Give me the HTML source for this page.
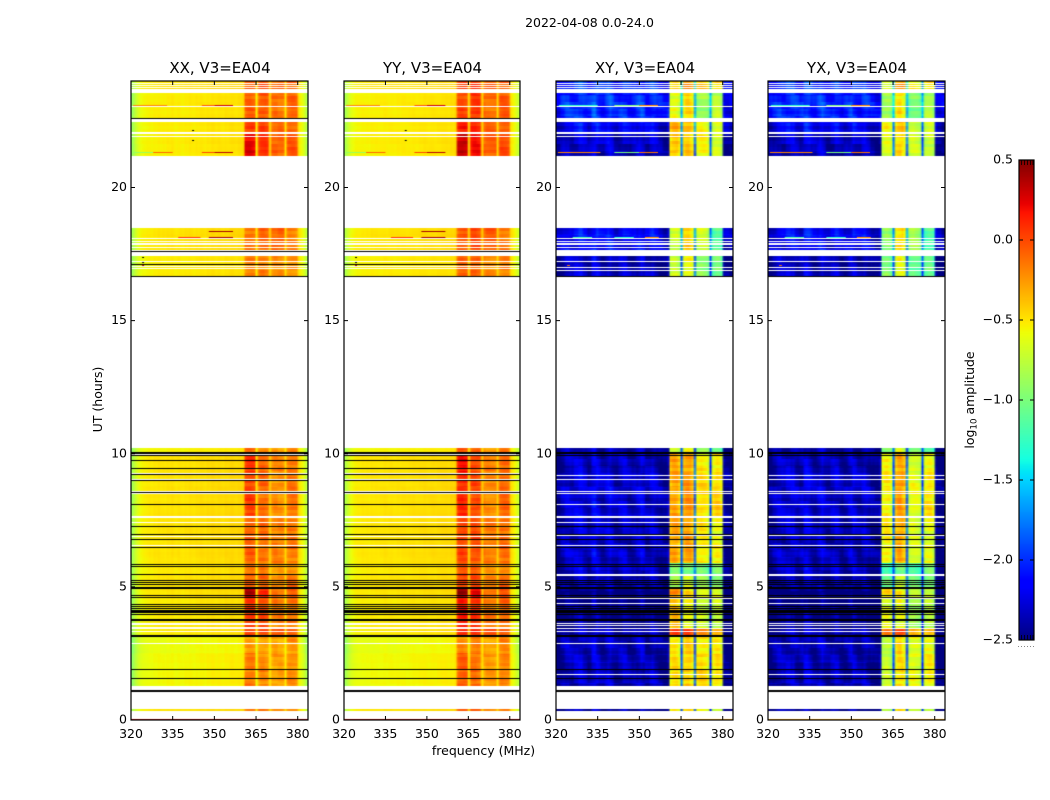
<!DOCTYPE html>
<html lang="en">
<head>
<meta charset="utf-8">
<title>2022-04-08 0.0-24.0</title>
<style>
html,body{margin:0;padding:0;background:#fff;}
#figure{position:relative;width:1050px;height:800px;overflow:hidden;background:#fff;font-family:"DejaVu Sans","Liberation Sans",sans-serif;}
canvas{position:absolute;display:block;}
svg{position:absolute;left:0;top:0;}
text{font-family:"DejaVu Sans","Liberation Sans",sans-serif;fill:#000;}
</style>
</head>
<body>
<div id="figure">
<svg id="overlay" width="1050" height="800" viewBox="0 0 1050 800"></svg>
</div>
<script>
/* ---------- axis labels ---------- */
const panelNames = ['XX, V3=EA04','YY, V3=EA04','XY, V3=EA04','YX, V3=EA04'];
const freqTicks = [320,335,350,365,380];
const timeTicks = [0,5,10,15,20];
const cbarTicks = [0.5,0,-0.5,-1,-1.5,-2,-2.5];
const cbarLabels = ['0.5','0.0','\u22120.5','\u22121.0','\u22121.5','\u22122.0','\u22122.5'];

/* ---------- frequency profile, log10 amplitude per 0.8 MHz channel from 320 MHz ---------- */
const profileXX = [
-0.86,-0.76,-0.67,-0.60,-0.56,-0.54,-0.53,-0.52,-0.51,-0.52,
-0.50,-0.51,-0.49,-0.51,-0.50,-0.51,-0.49,-0.50,-0.48,-0.50,
-0.51,-0.49,-0.50,-0.51,-0.49,-0.50,-0.48,-0.49,-0.50,-0.48,
-0.49,-0.47,-0.48,-0.49,-0.47,-0.48,-0.46,-0.47,-0.48,-0.46,
-0.47,-0.48,-0.46,-0.47,-0.46,-0.45,-0.46,-0.47,-0.45,-0.46,
-0.44,-0.14,-0.10,-0.09,-0.10,-0.14,-0.50,-0.17,-0.13,-0.12,
-0.13,-0.17,-0.44,-0.21,-0.18,-0.18,-0.19,-0.18,-0.21,-0.44,
-0.17,-0.14,-0.13,-0.14,-0.17,-0.47,-0.53,-0.60,-0.70,-0.84];
const profileYY = [
-0.82,-0.72,-0.64,-0.58,-0.55,-0.53,-0.52,-0.52,-0.51,-0.52,
-0.51,-0.52,-0.50,-0.51,-0.50,-0.51,-0.50,-0.50,-0.49,-0.50,
-0.50,-0.49,-0.50,-0.50,-0.49,-0.50,-0.49,-0.49,-0.50,-0.49,
-0.49,-0.48,-0.49,-0.49,-0.48,-0.48,-0.47,-0.48,-0.48,-0.47,
-0.47,-0.48,-0.47,-0.47,-0.46,-0.46,-0.46,-0.47,-0.45,-0.46,
-0.42,-0.05,-0.02,-0.01,-0.02,-0.05,-0.46,-0.06,-0.03,-0.02,
-0.03,-0.06,-0.42,-0.19,-0.17,-0.16,-0.17,-0.17,-0.19,-0.42,
-0.13,-0.10,-0.09,-0.10,-0.13,-0.46,-0.52,-0.58,-0.66,-0.78];
const profileXY = [
-2.42,-2.40,-2.30,-2.25,-2.20,-2.18,-2.22,-2.25,-2.20,-2.18,
-2.15,-2.14,-2.20,-2.24,-2.28,-2.25,-2.12,-2.08,-2.12,-2.20,
-2.26,-2.28,-2.22,-2.14,-2.12,-2.20,-2.28,-2.30,-2.26,-2.22,
-2.18,-2.20,-2.28,-2.32,-2.30,-2.26,-2.22,-2.16,-2.14,-2.20,
-2.26,-2.28,-2.22,-2.16,-2.20,-2.26,-2.30,-2.32,-2.36,-2.38,
-2.30,-0.36,-0.30,-0.28,-0.30,-0.42,-1.70,-0.36,-0.28,-0.26,
-0.30,-0.40,-1.75,-0.56,-0.52,-0.50,-0.52,-0.54,-0.62,-1.80,
-0.62,-0.55,-0.52,-0.55,-0.66,-2.38,-2.40,-2.42,-2.42,-2.42];
const profileYX = [
-2.40,-2.36,-2.30,-2.26,-2.22,-2.20,-2.24,-2.26,-2.22,-2.20,
-2.18,-2.16,-2.22,-2.26,-2.30,-2.26,-2.14,-2.10,-2.14,-2.22,
-2.28,-2.30,-2.24,-2.16,-2.14,-2.22,-2.30,-2.32,-2.28,-2.24,
-2.20,-2.22,-2.30,-2.34,-2.32,-2.28,-2.24,-2.18,-2.16,-2.22,
-2.28,-2.30,-2.24,-2.18,-2.22,-2.28,-2.32,-2.34,-2.38,-2.40,
-2.32,-0.62,-0.55,-0.52,-0.55,-0.66,-1.70,-0.40,-0.32,-0.30,
-0.34,-0.44,-1.75,-0.72,-0.66,-0.64,-0.66,-0.68,-0.76,-1.80,
-0.66,-0.60,-0.58,-0.60,-0.70,-2.38,-2.42,-2.42,-2.44,-2.44];

/* ---------- observing blocks (hours) ---------- */
const blockStart = [0.34,1.28,2.50,3.15,3.45,4.60,4.95,5.50,5.88,7.60,9.30,10.00,16.66,17.60,21.18,22.08,22.60,23.70];
const blockEnd   = [0.41,2.50,3.15,3.45,4.60,4.95,5.50,5.88,7.60,9.30,10.00,10.20,17.43,18.48,22.00,22.46,23.55,24.00];

/* amplitude offsets per block: out of band, sub-band 1, 2, 3, 4 */
const parallelOffsets = [
[0,-0.10,-0.05,-0.10,-0.05],
[-0.07,-0.05,-0.10,-0.10,-0.08],
[-0.10,-0.20,-0.15,-0.12,-0.12],
[-0.02,0.12,0.10,0.15,0.05],
[-0.02,0.15,0.10,0,0],
[0,0.45,0.25,0.05,0.05],
[0,0.05,0,-0.05,0],
[-0.02,-0.03,-0.05,-0.10,-0.10],
[0,0.02,0,0,-0.02],
[0,0.12,0.02,-0.05,0],
[0,0.18,0.02,-0.02,0.02],
[-0.05,0,-0.05,-0.10,-0.05],
[-0.03,-0.10,-0.05,-0.05,-0.08],
[0,-0.02,0.02,0.10,-0.05],
[-0.03,0.35,0.20,0.10,0.10],
[-0.03,0.15,0.15,0.08,0.05],
[-0.03,0.02,0.08,0.05,0.05],
[0,0.05,0.10,0.10,0.05]];
const crossOffsets = [
[-0.20,-0.30,-0.20,-0.10,-0.20],
[-0.13,-0.20,-0.15,0.05,0.05],
[-0.15,-0.20,-0.15,0,0],
[-0.15,0.35,0.35,0.30,0.25],
[-0.25,-0.10,-0.30,-0.20,-0.20],
[-0.30,0.10,-0.20,-0.10,-0.10],
[-0.15,-0.50,-0.40,-0.40,-0.40],
[-0.10,-0.70,-0.70,-0.50,-0.40],
[-0.10,0,0,0,-0.02],
[-0.07,0,0.05,0.05,0.10],
[-0.12,-0.02,0,0,0],
[-0.15,-0.35,-0.30,-0.35,-0.50],
[-0.12,-0.45,-0.30,-0.40,-0.50],
[0.05,-0.40,-0.15,-0.20,-0.55],
[-0.10,-0.10,-0.15,-0.05,-0.10],
[0.05,-0.05,-0.05,-0.05,-0.10],
[0.20,-0.30,-0.20,-0.35,-0.20],
[0.20,-0.20,0.10,0.10,0.10]];

/* sub-band edges (MHz) */
const subbandLow  = [360.8,365.6,370.4,376.0];
const subbandHigh = [364.8,369.6,375.2,380.0];

/* hand-read texture of the dynamic spectrum */
const rowTexture = [0.4,-0.2,0.7,0.1,-0.6,0.3,-0.1,0.8,-0.5,0.2,-0.7,0.5,0,-0.3,0.6,-0.8,0.2,0.4,-0.4,0.1,0.9,-0.6,-0.1,0.3,-0.9,0.5,0.2,-0.2,0.6,-0.5,0];
const blobTexture = [
[0.6,0.9,0.3,-0.4,-0.8,-0.2,0.5,1.0,0.4,-0.5,-0.9],
[0.2,0.7,0.8,0.1,-0.6,-0.7,0,0.6,0.7,-0.1,-0.6],
[-0.5,0,0.6,0.9,0.2,-0.5,-0.8,-0.1,0.5,0.8,0.1],
[-0.9,-0.6,0.1,0.7,0.8,0.2,-0.4,-0.7,0,0.7,0.6],
[-0.4,-0.8,-0.5,0,0.6,0.9,0.3,-0.4,-0.6,0.1,0.9],
[0.3,-0.3,-0.7,-0.6,0,0.5,0.8,0.2,-0.3,-0.5,0.4],
[0.8,0.4,-0.2,-0.8,-0.5,0.1,0.6,0.9,0.1,-0.7,-0.3]];

/* rows with no data (white) and zero-amplitude rows (black), in hours */
const parallelWhiteRows = [23.94,23.85,23.77,23.06,21.93,18.11,17.99,17.91,17.88,17.75,17.67,17.24,17.07,16.96,9.99,9.28,9.06,8.61,8.54,7.66,7.62,7.44,6.91,6.59,3.66,3.59,3.51,3.46,3.36,2.91];
const parallelBlackRows = [22.61,17.60,17.11,16.66,10.05,10.02,9.94,9.78,9.48,9.25,9.01,8.56,8.11,7.30,7.00,6.81,6.51,5.86,5.78,5.49,5.24,5.20,5.12,5.01,4.97,4.69,4.62,4.36,4.28,4.21,4.12,4.08,4.04,3.98,3.79,3.74,3.19,3.15,1.90,1.58,1.13,1.09];
const crossWhiteRows = [23.94,23.85,23.77,23.06,22.61,21.93,18.11,17.99,17.91,17.88,17.78,17.67,17.24,17.03,16.92,9.97,9.20,9.07,8.60,8.54,8.13,7.66,7.62,7.44,6.93,6.59,5.48,5.45,4.58,4.38,3.66,3.57,3.47,3.36,2.91,1.74];
const crossBlackRows = [16.66,10.05,10.02,9.94,7.30,7.00,6.81,6.51,5.86,5.78,5.24,5.20,5.12,5.01,4.97,4.69,4.62,4.28,4.21,4.12,4.08,4.04,3.98,3.79,3.74,3.19,3.15,1.90,1.58,1.13,1.09];

/* narrow-band / short-lived features: time, low MHz, high MHz, log10 amplitude */
const parallelFlagTime = [23.91,23.91,23.91,23.10,23.10,23.10,21.32,21.32,21.32,21.32,18.35,18.15,18.15,22.16,21.78,17.99,17.99,17.39,17.20,17.09,0.02];
const parallelFlagLow  = [365.6,371.0,376.0,320.7,345.5,350.0,320.7,328.0,345.5,350.0,348.0,337.0,348.0,342.0,342.0,335.6,342.0,324.0,324.0,324.0,320.0];
const parallelFlagHigh = [369.6,375.2,380.0,333.0,350.0,356.7,328.0,335.0,350.0,356.7,356.7,345.0,356.7,342.7,342.7,336.3,342.7,324.7,324.7,324.7,384.0];
const parallelFlagValue = [0.20,0.20,0.20,-0.20,-0.05,0.30,-0.90,-0.10,0,0.35,0.40,0.05,0.40,-2.5,-2.5,-2.5,-2.5,-2.5,-2.5,0.40,0.35];
const crossFlagTime = [23.91,23.10,23.10,23.10,21.32,21.32,21.32,18.15,18.15,18.15,17.09,0.02];
const crossFlagLow  = [361.0,321.0,341.0,350.0,320.7,341.0,350.0,326.0,341.0,352.0,324.0,320.0];
const crossFlagHigh = [380.0,335.0,350.0,356.7,336.0,350.0,356.7,333.0,348.0,357.0,325.0,384.0];
const crossFlagValue = [-0.10,-1.30,-1.00,-0.20,-0.20,-1.00,-0.15,-1.20,-1.30,-0.20,-0.20,-0.30];

/* ---------- layout ---------- */
const panelLeft = [131,344,556,768];
const panelRight = [308,520,733,945];
const plotTop = 81, plotBottom = 720;
const freqMin = 320, freqMax = 383.7, timeMax = 24, valueMin = -2.5, valueMax = 0.5;
const channelWidth = 0.8;
const NS = 'http://www.w3.org/2000/svg';
const svg = document.getElementById('overlay');
const figure = document.getElementById('figure');

function xScale(panel, f){
  return panelLeft[panel] + (f - freqMin) / (freqMax - freqMin) * (panelRight[panel] - panelLeft[panel]);
}
function yScale(t){
  return plotBottom - t / timeMax * (plotBottom - plotTop);
}
function yScaleCb(v){
  return 160 + (valueMax - v) / (valueMax - valueMin) * 480;
}
function jet(v){
  const x = Math.min(1, Math.max(0, (v - valueMin) / (valueMax - valueMin)));
  const lerp = (pts) => {
    for (let i = 1; i < pts.length; i++) {
      if (x <= pts[i][0]) {
        const a = pts[i-1], b = pts[i];
        return a[1] + (b[1]-a[1]) * (x-a[0]) / (b[0]-a[0]);
      }
    }
    return pts[pts.length-1][1];
  };
  return [
    Math.round(255*lerp([[0,0],[0.35,0],[0.66,1],[0.89,1],[1,0.5]])),
    Math.round(255*lerp([[0,0],[0.125,0],[0.375,1],[0.64,1],[0.91,0],[1,0]])),
    Math.round(255*lerp([[0,0.5],[0.11,1],[0.34,1],[0.65,0],[1,0]]))
  ];
}
function subbandOf(f){
  for (let i = 0; i < subbandLow.length; i++) {
    if (f >= subbandLow[i] - 0.01 && f < subbandHigh[i] - 0.01) return i + 1;
  }
  return 0;
}
function blockOf(t){
  for (let i = 0; i < blockStart.length; i++) {
    if (t >= blockStart[i] && t < blockEnd[i]) return i;
  }
  return -1;
}
function svgEl(tag, attrs, name){
  const el = document.createElementNS(NS, tag);
  for (const k in attrs) el.setAttribute(k, attrs[k]);
  
  
  svg.appendChild(el);
  return el;
}
function label(str, x, y, size, anchor, name, rotate){
  const attrs = {x:x, y:y, 'font-size':size, 'text-anchor':anchor};
  if (rotate) attrs.transform = 'rotate(-90 ' + x + ' ' + y + ')';
  const el = svgEl('text', attrs, name);
  el.textContent = str;
  return el;
}

/* ---------- heatmaps ---------- */
const panelProfiles = [profileXX, profileYY, profileXY, profileYX];
const panelOffsets = [parallelOffsets, parallelOffsets, crossOffsets, crossOffsets];
const panelWhite = [parallelWhiteRows, parallelWhiteRows, crossWhiteRows, crossWhiteRows];
const panelBlack = [parallelBlackRows, parallelBlackRows, crossBlackRows, crossBlackRows];
const flagSets = [
  [parallelFlagTime, parallelFlagLow, parallelFlagHigh, parallelFlagValue],
  [parallelFlagTime, parallelFlagLow, parallelFlagHigh, parallelFlagValue],
  [crossFlagTime, crossFlagLow, crossFlagHigh, crossFlagValue],
  [crossFlagTime, crossFlagLow, crossFlagHigh, crossFlagValue]
];
const panelSlugs = ['xx','yy','xy','yx'];

panelNames.forEach(function(title, p){
  const w = panelRight[p] - panelLeft[p];
  const h = plotBottom - plotTop;
  const canvas = document.createElement('canvas');
  canvas.width = w; canvas.height = h;
  canvas.style.left = panelLeft[p] + 'px';
  canvas.style.top = plotTop + 'px';
  
  
  figure.insertBefore(canvas, svg);
  const ctx = canvas.getContext('2d');

  const profile = panelProfiles[p];
  const cols = profile.length;
  const off = document.createElement('canvas');
  off.width = cols; off.height = h;
  const octx = off.getContext('2d');
  const img = octx.createImageData(cols, h);
  const cross = p >= 2;
  for (let r = 0; r < h; r++) {
    const t = (plotBottom - (plotTop + r + 0.5)) / (plotBottom - plotTop) * timeMax;
    const b = blockOf(t);
    if (b < 0) continue;
    const rowIdx = Math.floor(r / 3);
    for (let c = 0; c < cols; c++) {
      const f = freqMin + c * channelWidth;
      const s = subbandOf(f);
      const blob = blobTexture[Math.floor(r / 7) % 7][(Math.floor(c / 2) + p) % 11];
      const ripple = rowTexture[(rowIdx + (s ? s * 5 : 0)) % rowTexture.length];
      const ampBlob = cross ? (s ? 0.07 : 0.14) : (s ? 0.05 : 0.012);
      const ampRow = cross ? (s ? 0.09 : 0.07) : (s ? 0.07 : 0.012);
      const v = profile[c] + panelOffsets[p][b][s] + blob * ampBlob + ripple * ampRow;
      const col = jet(v);
      const i = (r * cols + c) * 4;
      img.data[i] = col[0]; img.data[i+1] = col[1]; img.data[i+2] = col[2]; img.data[i+3] = 255;
    }
  }
  octx.putImageData(img, 0, 0);
  ctx.imageSmoothingEnabled = true;
  ctx.drawImage(off, 0, 0, (freqMax - freqMin) / channelWidth, h, 0, 0, w, h);

  const flags = flagSets[p];
  flags[0].forEach(function(t, i){
    const x0 = xScale(p, flags[1][i]) - panelLeft[p];
    const x1 = Math.min(w, xScale(p, flags[2][i]) - panelLeft[p]);
    const col = jet(flags[3][i]);
    ctx.fillStyle = flags[3][i] <= valueMin ? '#000' : 'rgb(' + col.join(',') + ')';
    ctx.fillRect(x0, Math.min(h - 1, Math.round(yScale(t) - plotTop)), Math.max(1, x1 - x0), 1);
  });
  ctx.fillStyle = '#fff';
  panelWhite[p].forEach(function(t){
    ctx.fillRect(0, Math.round(yScale(t) - plotTop), w, 1);
  });
  ctx.fillStyle = '#000';
  panelBlack[p].forEach(function(t){
    ctx.fillRect(0, Math.round(yScale(t) - plotTop), w, 1);
  });

  /* axes frame, ticks, labels */
  const frame = svgEl('rect', {x:panelLeft[p], y:plotTop, width:w, height:h, fill:'none', stroke:'#000', 'stroke-width':1.2}, 'axes-frame-' + panelSlugs[p]);
  frame.setAttribute('shape-rendering', 'auto');
  label(title, (panelLeft[p] + panelRight[p]) / 2 + 0.5, 73, 15, 'middle', 'panel-title-' + panelSlugs[p]);
  freqTicks.forEach(function(f){
    const x = xScale(p, f);
    svgEl('line', {x1:x, x2:x, y1:plotBottom, y2:plotBottom - 4, stroke:'#000', 'stroke-width':1}, 'x-tick-bottom');
    svgEl('line', {x1:x, x2:x, y1:plotTop, y2:plotTop + 4, stroke:'#000', 'stroke-width':1}, 'x-tick-top');
    label(String(f), x, 738, 12.5, 'middle', 'x-tick-label');
  });
  timeTicks.forEach(function(t){
    const y = yScale(t);
    svgEl('line', {x1:panelLeft[p], x2:panelLeft[p] + 4, y1:y, y2:y, stroke:'#000', 'stroke-width':1}, 'y-tick-left');
    svgEl('line', {x1:panelRight[p], x2:panelRight[p] - 4, y1:y, y2:y, stroke:'#000', 'stroke-width':1}, 'y-tick-right');
    label(String(t), panelLeft[p] - 4, y + 3.5, 12.5, 'end', 'y-tick-label');
  });
});

/* ---------- figure text ---------- */
label('2022-04-08 0.0-24.0', 589.5, 27, 12.5, 'middle', 'figure-title');
label('frequency (MHz)', 483.5, 755, 12.5, 'middle', 'x-axis-title');
label('UT (hours)', 102, 399.5, 12.5, 'middle', 'y-axis-title', true);

/* ---------- colorbar ---------- */
const cbCanvas = document.createElement('canvas');
cbCanvas.width = 15; cbCanvas.height = 480;
cbCanvas.style.left = '1019px';
cbCanvas.style.top = '160px';


figure.insertBefore(cbCanvas, svg);
const cbCtx = cbCanvas.getContext('2d');
for (let i = 0; i < 480; i++) {
  cbCtx.fillStyle = 'rgb(' + jet(valueMax - (i + 0.5) / 480 * (valueMax - valueMin)).join(',') + ')';
  cbCtx.fillRect(0, i, 15, 1);
}
svgEl('rect', {x:1019, y:160, width:15, height:480, fill:'none', stroke:'#000', 'stroke-width':1.2}, 'colorbar-frame');
cbarTicks.forEach(function(v, i){
  const y = yScaleCb(v);
  svgEl('line', {x1:1019, x2:1023, y1:y, y2:y, stroke:'#000', 'stroke-width':1}, 'colorbar-tick-left');
  svgEl('line', {x1:1034, x2:1030, y1:y, y2:y, stroke:'#000', 'stroke-width':1}, 'colorbar-tick-right');
  label(cbarLabels[i], 1013, y + 3.5, 12.5, 'end', 'colorbar-tick-label');
});
[1021.5,1024.5,1027.5,1030.5,1033].forEach(function(x){
  svgEl('line', {x1:x, x2:x, y1:160, y2:165, stroke:'#000', 'stroke-width':0.8}, 'colorbar-minor-tick-top');
  svgEl('line', {x1:x, x2:x, y1:640, y2:635, stroke:'#000', 'stroke-width':0.8}, 'colorbar-minor-tick-bottom');
});
svgEl('line', {x1:1018, x2:1035, y1:646.5, y2:646.5, stroke:'#888', 'stroke-width':1, 'stroke-dasharray':'1 2'}, 'colorbar-minor-labels');

const cbTitle = svgEl('text', {x:974, y:400, 'font-size':12.5, 'text-anchor':'middle', transform:'rotate(-90 974 400)'}, 'colorbar-title');
const tsA = document.createElementNS(NS, 'tspan');
tsA.textContent = 'log';
cbTitle.appendChild(tsA);
const tsB = document.createElementNS(NS, 'tspan');
tsB.setAttribute('font-size', '8.7');
tsB.setAttribute('dy', '2.5');
tsB.textContent = '10';
cbTitle.appendChild(tsB);
const tsC = document.createElementNS(NS, 'tspan');
tsC.setAttribute('dy', '-2.5');
tsC.textContent = ' amplitude';
cbTitle.appendChild(tsC);
</script>
</body>
</html>
